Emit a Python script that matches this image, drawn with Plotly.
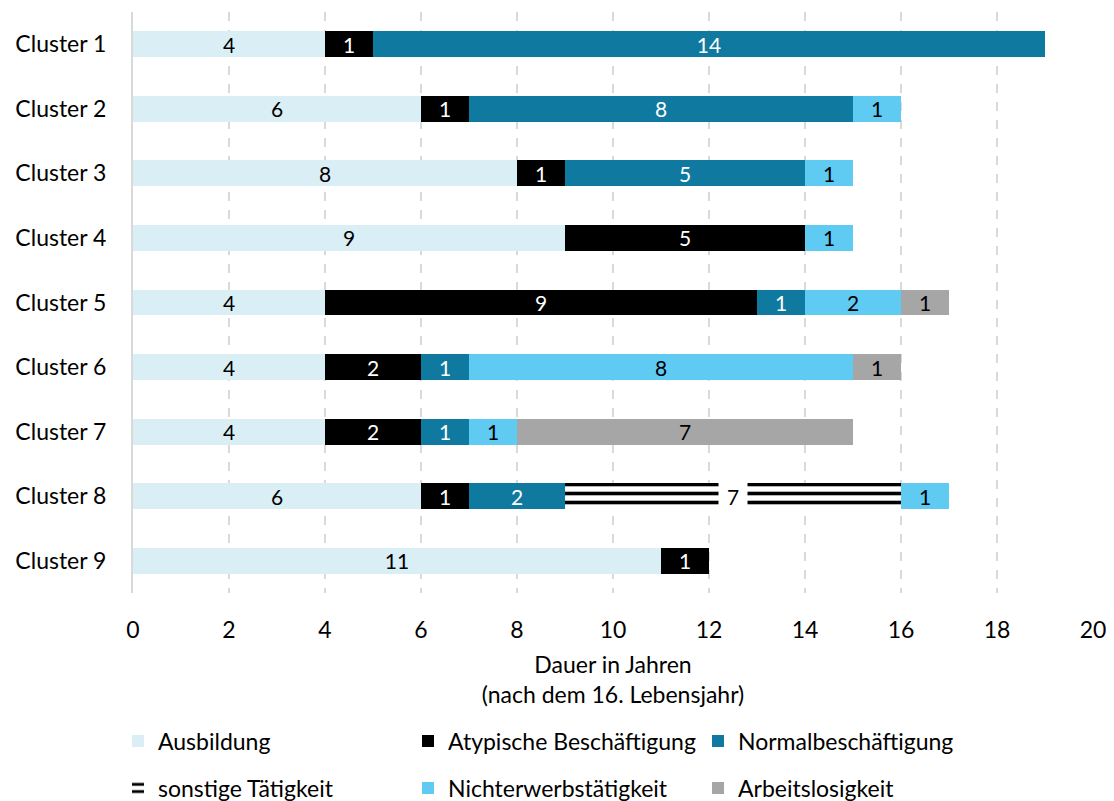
import plotly.graph_objects as go

clusters = ["Cluster 1", "Cluster 2", "Cluster 3", "Cluster 4", "Cluster 5",
            "Cluster 6", "Cluster 7", "Cluster 8", "Cluster 9"]

ausbildung = [4, 6, 8, 9, 4, 4, 4, 6, 11]
atypisch = [1, 1, 1, 5, 9, 2, 2, 1, 1]
normal = [14, 8, 5, 0, 1, 1, 1, 2, 0]
sonstige = [0, 0, 0, 0, 0, 0, 0, 7, 0]
nichterw = [0, 1, 1, 1, 2, 8, 1, 1, 0]
arbeitslos = [0, 0, 0, 0, 1, 1, 7, 0, 0]

x_ticks = [0, 2, 4, 6, 8, 10, 12, 14, 16, 18, 20]

FONT = "Lato"
FS = 23
W, H = 1114, 801
OFF = 8  # page body margin offset

series = [
    ("Ausbildung", ausbildung, "#DAEEF5", "#000000", "legend"),
    ("Atypische Beschäftigung", atypisch, "#000000", "#FFFFFF", "legend"),
    ("Normalbeschäftigung", normal, "#0F79A0", "#FFFFFF", "legend"),
    ("sonstige Tätigkeit", sonstige, "#FFFFFF", "#000000", "legend2"),
    ("Nichterwerbstätigkeit", nichterw, "#5FCBF3", "#000000", "legend2"),
    ("Arbeitslosigkeit", arbeitslos, "#A6A6A6", "#000000", "legend2"),
]

fig = go.Figure()
for name, vals, color, tcolor, leg in series:
    texts = [str(v) if v else "" for v in vals]
    marker = dict(color=color, line=dict(width=0))
    if name == "sonstige Tätigkeit":
        marker["pattern"] = dict(shape="-", fgcolor="#000000", bgcolor="#FFFFFF",
                                 size=9, solidity=0.4, fillmode="replace",
                                 fgopacity=1)
        texts = ["" for v in vals]
    fig.add_trace(go.Bar(
        name=name, y=clusters, x=vals, orientation="h",
        marker=marker, text=texts, textposition="inside",
        insidetextanchor="middle", textangle=0, constraintext="none",
        textfont=dict(color=tcolor, size=21, family=FONT),
        legend=leg, hoverinfo="skip",
    ))

# label for sonstige Tätigkeit, on a white box over the stripes
for i, v in enumerate(sonstige):
    if v:
        start = ausbildung[i] + atypisch[i] + normal[i]
        fig.add_annotation(x=start + v / 2, y=clusters[i], text=str(v),
                           showarrow=False, bgcolor="#FFFFFF", width=26, height=30,
                           font=dict(size=21, family=FONT, color="#000000"))

fig.update_layout(
    width=W, height=H,
    barmode="stack", bargap=0.6,
    plot_bgcolor="#FFFFFF", paper_bgcolor="#FFFFFF",
    margin=dict(l=133 - OFF, r=W - (1093 - OFF), t=12 - OFF,
                b=H - (593 - OFF), autoexpand=False),
    font=dict(family=FONT, size=FS, color="#000000"),
    xaxis=dict(range=[0, 20], tickvals=x_ticks, showgrid=True,
               gridcolor="#D9D9D9", griddash="dash", gridwidth=1.5,
               zeroline=False, showline=False, ticks="", ticklabelstandoff=21,
               automargin=False,
               title=dict(text="Dauer in Jahren<br>(nach dem 16. Lebensjahr)",
                          standoff=14, font=dict(size=FS))),
    yaxis=dict(autorange="reversed", showgrid=False, showline=True,
               linecolor="#D9D9D9", linewidth=2, ticks="", ticklabelstandoff=20,
               zeroline=False, automargin=False),
    legend=dict(orientation="h", xref="container", yref="container",
                x=(118 - OFF) / W, xanchor="left", y=1 - (741 - OFF) / H,
                yanchor="middle", entrywidth=245, font=dict(size=FS),
                traceorder="normal", itemclick=False),
    legend2=dict(orientation="h", xref="container", yref="container",
                 x=(118 - OFF) / W, xanchor="left", y=1 - (788 - OFF) / H,
                 yanchor="middle", entrywidth=245, font=dict(size=FS),
                 traceorder="normal", itemclick=False),
)

fig.write_html("out.html")
